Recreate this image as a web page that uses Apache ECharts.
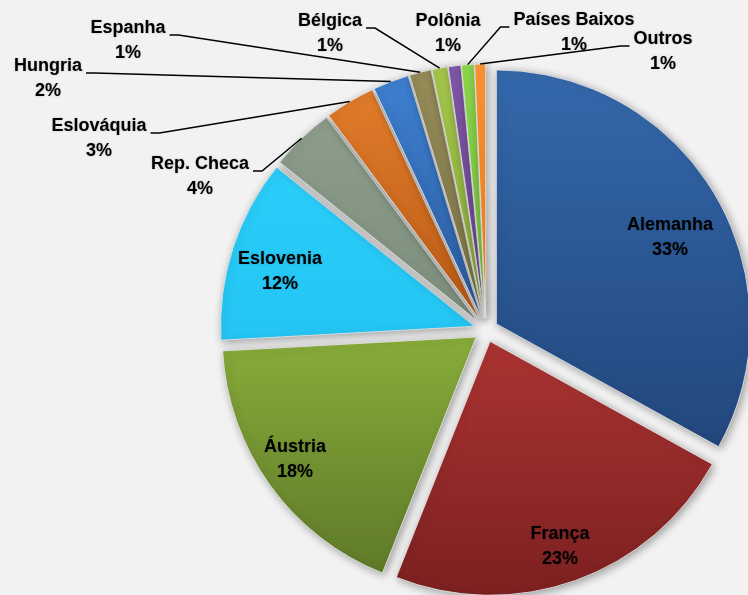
<!DOCTYPE html>
<html>
<head>
<meta charset="utf-8">
<script src="https://cdn.jsdelivr.net/npm/echarts@6/dist/echarts.min.js"></script>
<style>
html, body { margin: 0; padding: 0; background: #f2f2f2; }
#chart { width: 748px; height: 595px; }
</style>
</head>
<body>
<div id="chart"></div>
<script>
// dados (participação %)
var categories = ['Alemanha', 'França', 'Áustria', 'Eslovenia', 'Rep. Checa', 'Eslováquia',
	'Hungria', 'Espanha', 'Bélgica', 'Polônia', 'Países Baixos', 'Outros'];
var shares = [33.2, 23.1, 18.2, 11.7, 4.1, 3.2, 2.3, 1.4, 1.0, 0.8, 0.8, 0.7];

// cores: topo e base do degradê de cada fatia
var topColors = ['#3468ac', '#ab3432', '#88ac3b', '#2acefa', '#8d9d8b', '#e27c2b',
	'#3e80d1', '#968c59', '#a7c94d', '#8259a9', '#8fda4d', '#ff9634'];
var bottomColors = ['#22477d', '#7c2020', '#5e7a28', '#24c5f4', '#7c8e7c', '#b95a16',
	'#2b5c9f', '#7e7646', '#8aad3a', '#6a4690', '#78c23a', '#f07f1e'];

// posição dos rótulos (centro do bloco de texto), colocados à mão como no original
var labelSpots = [[670, 238], [560, 547], [295, 460], [280, 272], [200, 177], [99, 139],
	[48, 79], [128, 41], [330, 34], [448, 34], [574, 33], [663, 52]];
// lado de onde sai a linha guia: 1 direita, -1 esquerda, 0 sem linha
var lineSide = [0, 0, 0, 0, 1, 1, 1, 1, 1, 0, -1, -1];

var pieCenter = [ 486, 330 ];
var pieRadius = 254;
var explode = 12;

var chart = echarts.init(document.getElementById('chart'));

// fatias (destacadas)
var sliceData = [];
// mesma pizza, invisível, só para rótulos e linhas guia
var labelData = [];
for (var i = 0; i < categories.length; i++) {
	sliceData.push({
		name : categories[i],
		value : shares[i],
		selected : true,
		itemStyle : {
			color : new echarts.graphic.LinearGradient(0, 0, 0, 1, [
				{ offset : 0, color : topColors[i] },
				{ offset : 1, color : bottomColors[i] }
			])
		}
	});
	labelData.push({
		name : categories[i],
		value : shares[i],
		labelLine : { show : lineSide[i] !== 0 }
	});
}

var option = {
	backgroundColor : '#f2f2f2',
	animation : false,
	series : [ {
		type : 'pie',
		z : 2,
		center : pieCenter,
		radius : pieRadius,
		startAngle : 90,
		clockwise : true,
		selectedMode : 'multiple',
		selectedOffset : explode,
		silent : true,
		label : { show : false },
		labelLine : { show : false },
		itemStyle : {
			borderColor : 'rgba(225,225,225,0.9)',
			borderWidth : 1,
			shadowBlur : 8,
			shadowColor : 'rgba(0,0,0,0.35)',
			shadowOffsetX : 2,
			shadowOffsetY : 2
		},
		data : sliceData
	}, {
		type : 'pie',
		z : 5,
		center : pieCenter,
		// o ponto médio do arco destacado fica a raio + deslocamento do centro
		radius : pieRadius + explode,
		startAngle : 90,
		clockwise : true,
		silent : true,
		avoidLabelOverlap : false,
		itemStyle : { color : 'rgba(0,0,0,0)' },
		label : {
			show : true,
			position : 'outside',
			formatter : function(p) {
				return p.name + '\n' + Math.round(p.percent) + '%';
			},
			fontFamily : 'Liberation Sans',
			fontWeight : 'bold',
			fontSize : 18,
			lineHeight : 25,
			color : '#000',
			align : 'center',
			textShadowColor : 'rgba(0,0,0,0.25)',
			textShadowBlur : 2
		},
		labelLine : {
			show : true,
			length : 10,
			length2 : 10,
			lineStyle : { color : '#000', width : 1.5 }
		},
		labelLayout : function(params) {
			var i = params.dataIndex;
			var s = labelSpots[i];
			var out = { x : s[0], y : s[1], align : 'center', verticalAlign : 'middle' };
			if (lineSide[i] !== 0 && params.labelLinePoints) {
				var p0 = params.labelLinePoints[0];
				var half = params.labelRect.width / 2;
				var ex = s[0] + lineSide[i] * (half + 4);
				var ey = s[1] - 6;
				out.labelLinePoints = [ p0, [ ex + lineSide[i] * 9, ey ], [ ex, ey ] ];
			}
			return out;
		},
		data : labelData
	} ]
};
chart.setOption(option);
</script>
</body>
</html>
